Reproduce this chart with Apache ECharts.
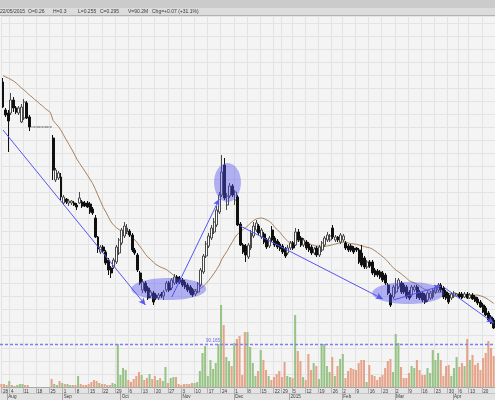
<!DOCTYPE html>
<html><head><meta charset="utf-8">
<script src="https://cdn.jsdelivr.net/npm/echarts@6/dist/echarts.min.js"></script>
<style>html,body{margin:0;padding:0;background:#f4f4f4;overflow:hidden}#c{width:495px;height:400px}</style>
</head><body><div id="c"></div>
<script>
// ---------- data ----------
const startDate = '2014-07-30';
const endDate = '2015-04-24';
const holidays = ['2014-12-25','2014-12-26','2015-01-01','2015-01-26','2015-04-03','2015-04-06'];

const openP = [
.448,.420,.417,.417,.430,.422,.417,.408,.412,.427,.413,
.403,.403,.403,.403,.403,.403,.403,.403,
.392,.350,.352,.353,.327,.331,.327,.327,.327,.325,.327,.328,.327,.327,.326,.321,.312,.293,
.278,.283,.278,.270,.262,.263,.268,.277,.287,.294,.298,.299,.295,.280,.275,.257,
.240,.247,.242,.234,.237,.235,.232,.236,.234,.240,.247,.242,.247,.253,.252,.250,.248,.245,.243,.240,.236,
.238,.245,.258,.274,.284,.292,.298,.305,.318,.335,.365,.325,.334,.344,.330,.333,.306,.285,.284,
.273,.282,.294,.300,.304,.293,.296,.290,.284,.300,.292,.289,.286,.284,.281,.277,.282,.287,
.285,.298,.292,.285,.288,.286,.283,.277,.282,.275,.280,.285,.290,.290,.302,.290,.293,.288,.290,
.287,.284,.284,.282,.282,.280,.277,.272,.263,.268,.268,.260,.259,.258,.257,.255,.245,.235,
.233,.238,.243,.247,.245,.243,.238,.235,.240,.243,.238,.237,.235,.230,.232,.233,.238,.240,
.245,.242,.238,.235,.232,.234,.234,.236,.236,.233,.236,.232,.235,.233,.231,.228,.225,.222,.217,.213,.210];
const closeP = [
.423,.415,.409,.430,.422,.418,.422,.423,.428,.412,.403,
.403,.403,.403,.403,.403,.403,.403,.403,
.360,.360,.357,.333,.333,.328,.329,.329,.325,.323,.332,.324,.324,.323,.318,.317,.293,.281,
.283,.279,.267,.260,.257,.270,.283,.290,.300,.304,.302,.295,.280,.277,.260,.247,
.248,.239,.232,.238,.228,.232,.235,.234,.238,.247,.240,.250,.253,.248,.248,.245,.243,.240,.237,.235,.239,
.246,.260,.274,.286,.294,.302,.308,.320,.335,.358,.332,.334,.344,.335,.338,.305,.285,.278,.275,
.285,.297,.304,.307,.297,.300,.288,.283,.292,.290,.285,.283,.281,.278,.274,.282,.287,.282,
.298,.290,.285,.290,.282,.280,.277,.281,.275,.283,.287,.292,.295,.294,.293,.293,.290,.295,.294,
.282,.280,.280,.278,.280,.268,.265,.263,.268,.264,.257,.255,.255,.253,.250,.247,.237,.225,
.243,.245,.250,.238,.238,.233,.232,.243,.243,.233,.232,.230,.228,.237,.237,.240,.242,.245,
.240,.233,.232,.228,.236,.237,.236,.233,.232,.236,.232,.235,.231,.229,.227,.223,.218,.215,.210,.207,.202];
const highP = [
.452,.422,.420,.437,.433,.424,.424,.426,.431,.429,.415,
.403,.403,.403,.403,.403,.403,.403,.403,
.395,.362,.359,.357,.335,.332,.331,.330,.329,.327,.338,.330,.329,.329,.328,.323,.315,.294,
.285,.285,.280,.272,.264,.272,.285,.292,.302,.308,.306,.301,.297,.282,.277,.259,
.251,.249,.244,.240,.239,.237,.237,.238,.240,.249,.249,.252,.256,.255,.254,.252,.250,.247,.245,.242,.241,
.248,.262,.276,.289,.297,.305,.312,.324,.338,.375,.372,.337,.347,.346,.340,.335,.308,.287,.286,
.287,.300,.308,.310,.306,.302,.298,.292,.294,.304,.294,.291,.288,.286,.283,.285,.289,.289,
.302,.301,.294,.292,.290,.288,.285,.283,.284,.285,.289,.294,.298,.296,.305,.295,.294,.297,.296,
.289,.286,.286,.284,.283,.282,.285,.274,.270,.270,.270,.262,.261,.260,.259,.257,.247,.237,
.245,.252,.252,.249,.247,.245,.240,.245,.245,.245,.240,.239,.237,.239,.239,.242,.244,.247,
.247,.244,.240,.237,.238,.239,.237,.238,.238,.238,.238,.237,.237,.235,.233,.230,.227,.224,.219,.215,.212];
const lowP = [
.422,.413,.378,.415,.418,.416,.415,.407,.410,.411,.399,
.403,.403,.403,.403,.403,.403,.403,.403,
.350,.348,.350,.330,.325,.326,.324,.325,.324,.320,.326,.322,.323,.322,.316,.315,.292,.277,
.276,.277,.265,.255,.252,.261,.266,.275,.285,.292,.296,.293,.278,.275,.258,.245,
.237,.237,.230,.232,.225,.230,.230,.232,.230,.238,.238,.240,.245,.246,.246,.243,.241,.238,.235,.233,.234,
.237,.243,.256,.272,.282,.290,.296,.303,.316,.333,.330,.320,.332,.333,.325,.304,.284,.276,.268,
.271,.280,.292,.298,.295,.291,.286,.281,.282,.288,.283,.281,.279,.276,.272,.275,.280,.280,
.284,.288,.283,.283,.280,.278,.275,.275,.273,.273,.278,.283,.288,.288,.291,.288,.288,.286,.288,
.280,.278,.278,.276,.278,.266,.263,.261,.261,.262,.255,.253,.253,.251,.248,.245,.235,.223,
.231,.236,.241,.236,.236,.231,.230,.233,.238,.231,.230,.228,.226,.228,.230,.231,.236,.238,
.238,.231,.230,.226,.230,.232,.233,.232,.231,.232,.231,.231,.230,.228,.225,.222,.217,.214,.209,.206,.201];
// volume in millions
const volume = [
6.3,6.3,4.2,12.6,4.2,2.1,4.2,6.3,6.3,4.2,4.2,
0,0,0,0,0,0,0,0,
16.8,6.3,4.2,12.6,8.4,6.3,6.3,4.2,4.2,4.2,23.1,6.3,4.2,4.2,6.3,10.5,14.7,12.6,
8.4,6.3,6.3,4.2,4.2,8.4,6.3,90.3,25.2,39.9,35.7,14.7,10.5,16.8,23.1,31.5,
25.2,14.7,18.9,27.3,16.8,23.1,14.7,18.9,12.6,42.0,8.4,18.9,21.0,21.0,6.3,4.2,6.3,6.3,6.3,8.4,8.4,
10.5,33.6,71.4,86.1,23.1,56.7,37.8,50.4,90.3,172.2,130.2,63.0,54.6,44.1,92.4,100.8,107.1,25.2,115.5,
115.5,84.0,50.4,23.1,33.6,77.7,56.7,35.7,23.1,14.7,21.0,27.3,33.6,21.0,52.5,23.1,21.0,18.9,
151.2,75.6,54.6,21.0,14.7,69.3,35.7,50.4,44.1,16.8,90.3,90.3,44.1,31.5,63.0,23.1,44.1,58.8,69.3,
18.9,33.6,39.9,37.8,35.7,50.4,56.7,56.7,10.5,46.2,25.2,23.1,14.7,21.0,25.2,39.9,54.6,58.8,
31.5,111.3,92.4,42.0,18.9,18.9,29.4,44.1,39.9,56.7,35.7,25.2,25.2,39.9,29.4,77.7,56.7,71.4,
56.7,23.1,44.1,46.2,23.1,39.9,63.0,42.0,50.4,44.1,100.8,56.7,67.2,46.2,50.4,35.7,60.9,71.4,96.6,81.9,65.1];
const maLead = [.4545,.453,.452,.4505,.449,.447,.4445,.442,.440,.4375,.435,.433,.4305,.4285,.426,.424,.4215,.4195,.4175];
const maPeriod = 20;
const volRef = 90.165;
const volRefLabel = '90.165';
const headerTexts = ['22/05/2015','O=0.26','H=0.3','L=0.255','C=0.295','V=90.2M','Chg=+0.07 (+31.1%)'];
const monthNames = ['2015','Feb','Mar','Apr','May','Jun','Jul','Aug','Sep','Oct','Nov','Dec'];
// annotations in data space: [dayIndex, price]
const trendLines = [
  [[0,0.400],[54,0.225]],
  [[64,0.233],[82,0.331]],
  [[90,0.304],[144,0.231]],
  [[148,0.230],[166,0.244]],
  [[167,0.243],[186,0.207]]
];
const ellipses = [
  {c:[62.8,0.241], rx:14.2, ry:0.011},
  {c:[85.1,0.3475], rx:5.1, ry:0.0195},
  {c:[153.6,0.237], rx:13.6, ry:0.011}
];

// ---------- calendar ----------
function tradingDays(){
  const out=[]; let d=new Date(startDate+'T00:00:00Z'); const end=new Date(endDate+'T00:00:00Z');
  while(d<=end){
    const wd=d.getUTCDay(); const s=d.toISOString().slice(0,10);
    if(wd!==0 && wd!==6 && holidays.indexOf(s)<0) out.push(s);
    d=new Date(d.getTime()+86400000);
  }
  return out;
}
const dates = tradingDays();
function mondayOf(s){const d=new Date(s+'T00:00:00Z');const wd=d.getUTCDay();return new Date(d.getTime()-(wd-1)*86400000);}
const weekStart = dates.map((s,i)=> i===0 || mondayOf(s).getTime()!==mondayOf(dates[i-1]).getTime());
const monthStart = dates.map((s,i)=> i>0 && s.slice(5,7)!==dates[i-1].slice(5,7));

const candles = dates.map((_,i)=>{
  const flat = openP[i]===closeP[i] && highP[i]===lowP[i] && volume[i]===0;
  const item = {value:[openP[i],closeP[i],lowP[i],highP[i]]};
  if(flat) item.itemStyle = {borderColor:'#8a8a8a',borderColor0:'#8a8a8a',color:'#8a8a8a',color0:'#8a8a8a'};
  return item;
});
const maVals = dates.map((_,i)=>{
  if(i<maPeriod-1) return maLead[i];
  let s=0; for(let k=i-maPeriod+1;k<=i;k++) s+=closeP[k];
  return +(s/maPeriod).toFixed(4);
});
const upColor='#98c386', downColor='#e5a38a';
const volData = volume.map((v,i)=>({value:v, itemStyle:{color: closeP[i]>=openP[i] ? upColor : downColor}}));

// ---------- chart ----------
const chart = echarts.init(document.getElementById('c'), null, {renderer:'canvas'});
const headerX = [0,28,53,78,100,128,152];
const gridTop=16, gridBottom=13;
const priceMin=0.143, priceMax=0.514, priceStep=0.013;

const option = {
  animation:false,
  backgroundColor:'#f4f4f4',
  textStyle:{fontFamily:'Liberation Sans, Arial, sans-serif'},
  grid:[
    {left:0,right:0,top:gridTop,bottom:gridBottom},
    {left:0,right:0,top:300,bottom:gridBottom}
  ],
  xAxis:[
    {type:'category',gridIndex:0,data:dates,boundaryGap:true,
     axisLine:{show:true,lineStyle:{color:'#a8a8a8',width:1}},
     axisTick:{show:true,interval:(i)=>weekStart[i],length:6,lineStyle:{color:'#b0b0b0'}},
     axisLabel:{show:true,interval:(i)=>weekStart[i],formatter:(v)=>String(mondayOf(v).getUTCDate()),
       fontSize:4.6,color:'#3a3a3a',align:'left',margin:2,showMinLabel:true,showMaxLabel:true,hideOverlap:false},
     splitLine:{show:true,interval:(i)=>weekStart[i],lineStyle:{color:'#e3e3e3',width:1}}},
    {type:'category',gridIndex:0,data:dates,boundaryGap:true,position:'bottom',offset:6,
     axisLine:{show:true,lineStyle:{color:'#c4c4c4',width:1}},
     axisTick:{show:true,interval:(i)=>monthStart[i],length:7,lineStyle:{color:'#a8a8a8'}},
     axisLabel:{show:true,interval:(i)=>monthStart[i],formatter:(v)=>monthNames[(+v.slice(5,7))-1],
       fontSize:4.6,color:'#3a3a3a',align:'left',margin:1.5,hideOverlap:false},
     splitLine:{show:false}},
    {type:'category',gridIndex:1,data:dates,boundaryGap:true,show:false}
  ],
  yAxis:[
    {type:'value',gridIndex:0,min:priceMin,max:priceMax,interval:priceStep,position:'right',
     axisLabel:{show:false},axisLine:{show:false},axisTick:{show:false},
     splitLine:{show:true,lineStyle:{color:'#e3e3e3',width:1}}},
    {type:'value',gridIndex:1,min:0,max:182.7,show:false,splitLine:{show:false}}
  ],
  series:[
    {type:'bar',xAxisIndex:2,yAxisIndex:1,data:volData,barWidth:'78%',z:1,
     markLine:{silent:true,symbol:'none',label:{show:false},
       lineStyle:{color:'#7f7ff0',type:[3,2],width:1.3},data:[{yAxis:volRef}]},
     markPoint:{silent:true,symbol:'circle',symbolSize:0.1,
       label:{show:true,position:'top',distance:1,formatter:volRefLabel,color:'#6a6ae6',fontSize:4.6},
       data:[{coord:[dates[80],volRef]}]}},
    {type:'line',xAxisIndex:0,yAxisIndex:0,data:maVals,showSymbol:false,symbol:'none',z:3,
     lineStyle:{color:'#a8825f',width:1}},
    {type:'candlestick',xAxisIndex:0,yAxisIndex:0,data:candles,barWidth:'92%',z:4,
     itemStyle:{color:'#ffffff',color0:'#101010',borderColor:'#4a4a4a',borderColor0:'#101010',borderWidth:1},
     markLine:{silent:true,symbol:['none','arrow'],symbolSize:[5,7],label:{show:false},
       lineStyle:{color:'#5656f2',width:1,type:'solid'},
       data:trendLines.map(l=>[{coord:[dates[l[0][0]],l[0][1]]},{coord:[dates[l[1][0]],l[1][1]]}])}}
  ],
  graphic:[
    {id:'hdr1',type:'rect',shape:{x:0,y:0,width:495,height:8},style:{fill:'#cbcbcb'},z:-1},
    {id:'hdr2',type:'rect',shape:{x:0,y:8,width:495,height:7},style:{fill:'#dcdcdc'},z:-1},
    {id:'hdr3',type:'rect',shape:{x:0,y:15,width:495,height:1},style:{fill:'#b2b2b2'},z:-1},
    {id:'band',type:'rect',shape:{x:0,y:387,width:495,height:13},style:{fill:'#e3e3e3'},z:-1}
  ].concat(headerTexts.map((t,i)=>({id:'ht'+i,type:'text',x:headerX[i],y:11.7,
     style:{text:t,fill:'#3c3c3c',fontSize:5,fontFamily:'Liberation Sans, Arial, sans-serif',textVerticalAlign:'middle'},z:5})))
};
chart.setOption(option);

// ellipses positioned through the axes
function px(idx,price){
  const i0=Math.floor(idx), f=idx-i0;
  const a=chart.convertToPixel({xAxisIndex:0,yAxisIndex:0},[dates[i0],price]);
  const b=chart.convertToPixel({xAxisIndex:0,yAxisIndex:0},[dates[Math.min(i0+1,dates.length-1)],price]);
  return [a[0]+(b[0]-a[0])*f, a[1]];
}
const bandW = chart.convertToPixel({xAxisIndex:0,yAxisIndex:0},[dates[1],0.3])[0]-chart.convertToPixel({xAxisIndex:0,yAxisIndex:0},[dates[0],0.3])[0];
const ellG = ellipses.map((e,k)=>{
  const c=px(e.c[0],e.c[1]); const t=px(e.c[0],e.c[1]+e.ry);
  return {id:'ell'+k,type:'ellipse',shape:{cx:c[0],cy:c[1],rx:e.rx*bandW,ry:Math.abs(c[1]-t[1])},
    style:{fill:'rgba(78,78,236,0.42)'},z:50,silent:true};
});
chart.setOption({graphic:ellG});
</script>
</body></html>
